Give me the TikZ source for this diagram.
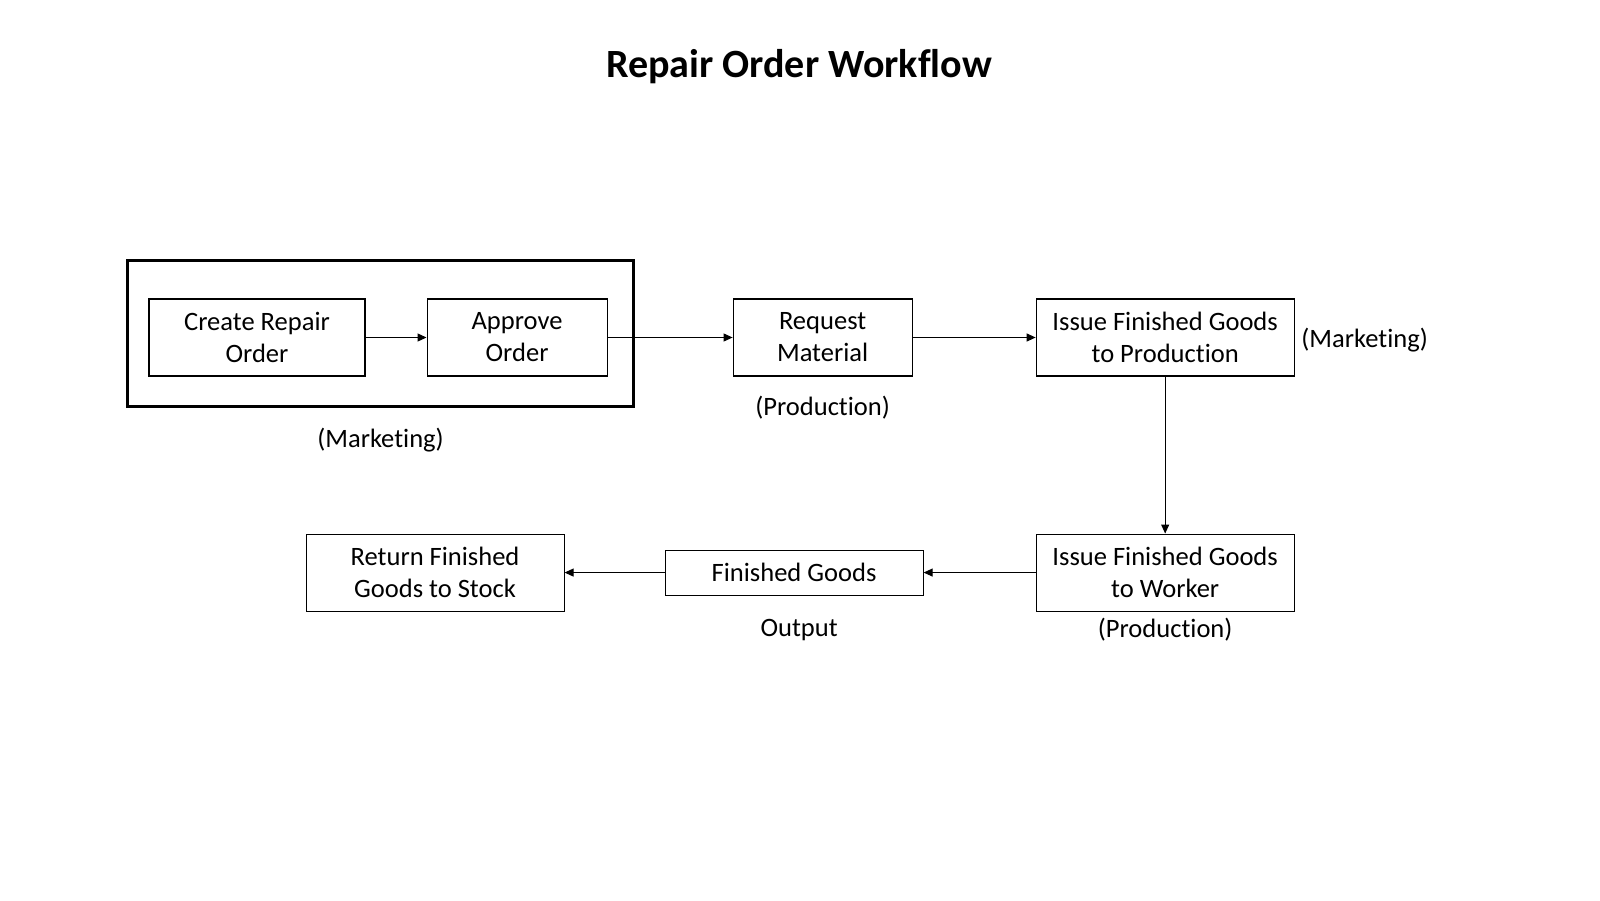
\documentclass[tikz,border=0pt]{standalone}
\usepackage{fontspec}
\setmainfont{Carlito}[Ligatures=NoCommon]
\usepackage{tikz}
\usetikzlibrary{
  arrows.meta,
  positioning,
  fit,
  calc
}
\definecolor{roLine}{HTML}{000000}
\definecolor{roText}{HTML}{000000}
\tikzset{
  ronode/.style={
    draw=roLine, line width=0.3pt, minimum height=0.77cm, inner sep=0pt,
    font=\fontsize{7.55}{9.1}\selectfont, align=center, text=roText
  },
  stepbox/.style={ronode, minimum width=2.58cm},
  frame/.style={draw=roLine, line width=0.65pt, inner sep=0pt},
  tag/.style={font=\fontsize{7.55}{9.1}\selectfont, inner sep=0pt, text=roText},
  flow/.style={-{Triangle[length=0.09cm, width=0.08cm]}, line width=0.3pt, roLine},
  heading/.style={font=\fontsize{11.4}{13}\selectfont\bfseries, inner sep=0pt}
}
\begin{document}
\begin{tikzpicture}[node distance=1.2cm]
  \useasboundingbox (0,0) rectangle (16,9);
  \node[heading] (title) at (7.99,8.33) {Repair Order Workflow};
  \node[ronode, minimum width=2.16cm] (create) at (2.57,5.625) {Create Repair\\Order};
  \node[ronode, minimum width=1.80cm, right=0.61cm of create] (approve) {Approve\\Order};
  \node[ronode, minimum width=1.79cm, right=1.25cm of approve] (request) {Request\\Material};
  \node[stepbox, right=1.23cm of request] (issueprod) {Issue Finished Goods\\to Production};
  \node[stepbox, below=1.57cm of issueprod] (issuework) {Issue Finished Goods\\to Worker};
  \node[stepbox, minimum height=0.45cm, left=1.12cm of issuework] (finished) {Finished Goods};
  \node[stepbox, left=1.00cm of finished] (return) {Return Finished\\Goods to Stock};
  \coordinate (frameNW) at ($(create.north west)+(-0.21,0.38)$);
  \coordinate (frameSE) at ($(approve.south east)+(0.26,-0.30)$);
  \node[frame, fit=(frameNW)(frameSE)] (frame) {};
  \draw[flow] (create.east) -- (approve.west);
  \draw[flow] (approve.east) -- (request.west);
  \draw[flow] (request.east) -- (issueprod.west);
  \draw[flow] (issueprod.south) -- (issuework.north);
  \draw[flow] (issuework.west) -- (finished.east);
  \draw[flow] (finished.west) -- (return.east);
  \node[tag] (mktlbl) at ($(frame.south)+(0,-0.32)$) {(Marketing)};
  \node[tag] (prodlbl) at ($(request.south)+(0,-0.31)$) {(Production)};
  \node[tag, anchor=west, xshift=0.06cm, yshift=-0.03cm] (mktside) at (issueprod.east) {(Marketing)};
  \node[tag] (prodbot) at ($(issuework.south)+(0,-0.18)$) {(Production)};
  \node[tag] (outlbl) at ($(finished.south)+(0.05,-0.34)$) {Output};
\end{tikzpicture}
\end{document}
